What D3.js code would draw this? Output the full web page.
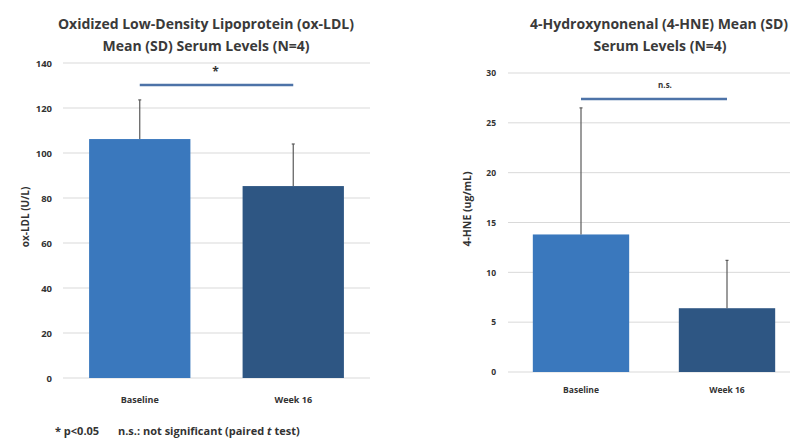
<!DOCTYPE html>
<html><head><meta charset="utf-8">
<script src="https://cdn.jsdelivr.net/npm/d3@7"></script>
<style>body{margin:0;background:#fff}svg{display:block}text{font-family:"Open Sans",sans-serif}</style>
</head><body>
<svg id="c" width="790" height="440"></svg>
<script>
const categories = ["Baseline", "Week 16"];
const oxLdlMean = [106.2, 85.3];
const oxLdlSD = [17.4, 18.7];
const hneMean = [13.8, 6.4];
const hneSD = [12.7, 4.8];
const oxLdlTicks = [0, 20, 40, 60, 80, 100, 120, 140];
const hneTicks = [0, 5, 10, 15, 20, 25, 30];
const barColors = ["#3a78bd", "#2e5683"];

const svg = d3.select("#c");

function panel(o) {
  const g = svg.append("g");
  const x = d3.scaleBand().domain(categories).range([o.x0, o.x1]).paddingInner(0.34).paddingOuter(0.17);
  const y = d3.scaleLinear().domain([0, o.max]).range([o.y0, o.y1]);
  g.append("g").selectAll("line").data(o.ticks).join("line")
    .attr("x1", o.x0).attr("x2", o.x1)
    .attr("y1", d => y(d)).attr("y2", d => y(d))
    .attr("stroke", "#d9d9d9").attr("stroke-width", 1);
  const ya = d3.axisLeft(y).tickValues(o.ticks).tickSize(0).tickPadding(o.tickPad);
  const yg = g.append("g").attr("transform", `translate(${o.x0},0)`).call(ya);
  yg.select(".domain").remove();
  yg.selectAll("text").attr("font-size", o.tickFont).attr("font-weight", "bold").attr("fill", "#333");
  g.append("g").selectAll("rect").data(categories).join("rect")
    .attr("x", d => x(d)).attr("width", x.bandwidth())
    .attr("y", (d, i) => y(o.mean[i])).attr("height", (d, i) => y(0) - y(o.mean[i]))
    .attr("fill", (d, i) => barColors[i]);
  const eb = g.append("g").attr("stroke", "#5a5a5a").attr("stroke-width", 1.2);
  categories.forEach((c, i) => {
    const cx = x(c) + x.bandwidth() / 2;
    eb.append("line").attr("x1", cx).attr("x2", cx).attr("y1", y(o.mean[i])).attr("y2", y(o.mean[i] + o.sd[i]));
    eb.append("line").attr("x1", cx - 1.5).attr("x2", cx + 1.5).attr("y1", y(o.mean[i] + o.sd[i])).attr("y2", y(o.mean[i] + o.sd[i]));
  });
  const xa = d3.axisBottom(x).tickSize(0).tickPadding(o.xPad);
  const xg = g.append("g").attr("transform", `translate(0,${o.y0})`).call(xa);
  xg.select(".domain").remove();
  xg.selectAll("text").attr("font-size", o.xFont).attr("font-weight", "bold").attr("fill", "#333");
  const c0 = x(categories[0]) + x.bandwidth() / 2, c1 = x(categories[1]) + x.bandwidth() / 2;
  g.append("line").attr("x1", c0).attr("x2", c1).attr("y1", o.sigY).attr("y2", o.sigY)
    .attr("stroke", "#4d73a8").attr("stroke-width", 2.5);
  g.append("text").attr("x", (c0 + c1) / 2 + o.sigDx).attr("y", o.sigTextY).attr("text-anchor", "middle")
    .attr("font-size", o.sigFont).attr("font-weight", "bold").attr("fill", "#333").text(o.sigText);
  g.append("text").attr("transform", `translate(${o.yTitleX},${o.yTitleY}) rotate(-90)`)
    .attr("text-anchor", "middle").attr("font-size", o.yTitleFont).attr("font-weight", "bold").attr("fill", "#333")
    .text(o.yTitle);
  o.title.forEach((t, i) => {
    const a = o.titleAnchors[i];
    g.append("text").attr("x", a[0]).attr("y", 29 + i * 22).attr("text-anchor", a[1])
      .attr("font-size", o.titleFont).attr("font-weight", "bold").attr("fill", "#3a3a3a").text(t);
  });
}

panel({
  x0: 63, x1: 370, y0: 378, y1: 63, max: 140, ticks: oxLdlTicks, mean: oxLdlMean, sd: oxLdlSD,
  tickFont: 9.5, tickPad: 11, xFont: 9, xPad: 19,
  sigY: 85, sigTextY: 76, sigText: "*", sigDx: -1, sigFont: 12,
  yTitle: "ox-LDL (U/L)", yTitleX: 29, yTitleY: 217, yTitleFont: 10,
  titleFont: 14, titleAnchors: [[206, "middle"], [206, "middle"]],
  title: ["Oxidized Low-Density Lipoprotein (ox-LDL)", "Mean (SD) Serum Levels (N=4)"]
});
panel({
  x0: 508, x1: 800, y0: 372, y1: 73, max: 30, ticks: hneTicks, mean: hneMean, sd: hneSD,
  tickFont: 8.5, tickPad: 12, xFont: 8.5, xPad: 15,
  sigY: 99, sigTextY: 88, sigText: "n.s.", sigDx: 11, sigFont: 8,
  yTitle: "4-HNE (ug/mL)", yTitleX: 471, yTitleY: 209, yTitleFont: 10.5,
  titleFont: 14, titleAnchors: [[788, "end"], [660, "middle"]],
  title: ["4-Hydroxynonenal (4-HNE) Mean (SD)", "Serum Levels (N=4)"]
});

const fn = svg.append("text").attr("x", 55).attr("y", 435).attr("font-size", 11).attr("font-weight", "bold").attr("fill", "#333");
fn.append("tspan").text("* p<0.05");
fn.append("tspan").attr("x", 118).text("n.s.: not significant (paired ");
fn.append("tspan").attr("font-style", "italic").text("t");
fn.append("tspan").text(" test)");
</script>
</body></html>
